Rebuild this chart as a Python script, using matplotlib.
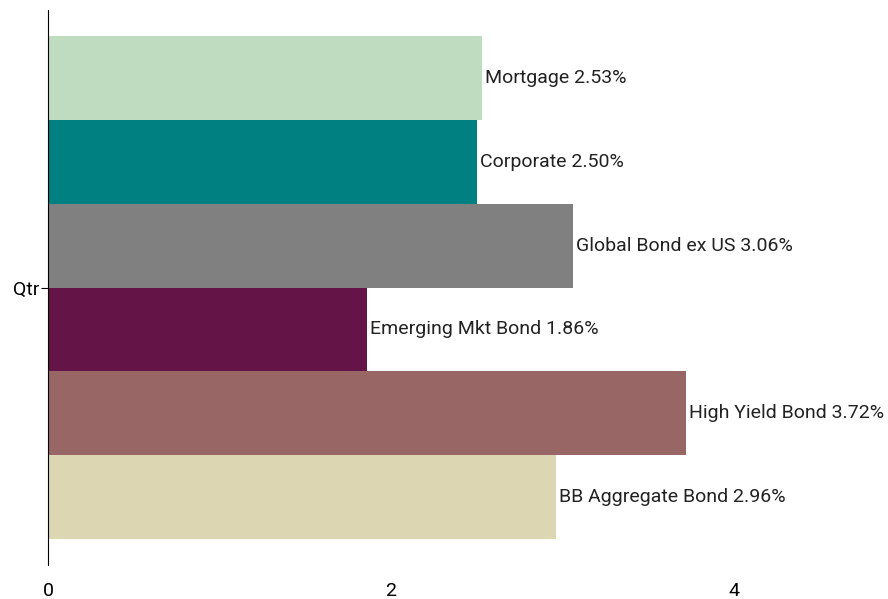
import matplotlib.pyplot as plt
import numpy as np

categories = ['Qtr']
series = ['BB Aggregate Bond', 'High Yield Bond', 'Emerging Mkt Bond',
          'Global Bond ex US', 'Corporate', 'Mortgage']
values = [2.96, 3.72, 1.86, 3.06, 2.50, 2.53]
colors = ['#ddd6b3', '#996666', '#641446', '#808080', '#008080', '#c0dcc0']

plt.rcParams['font.family'] = ['Roboto', 'DejaVu Sans']

fig = plt.figure(figsize=(8.88, 5.99), dpi=100)
ax = fig.add_axes([48 / 888, 1 - 565 / 599, 830 / 888, 555 / 599])

n = len(series)
h = 0.905 / n
for i, (name, val, c) in enumerate(zip(series, values, colors)):
    y = -0.4525 + h / 2 + i * h
    ax.barh(y, val, height=h, color=c)
    ax.text(val + 0.02, y, f'{name} {val:.2f}%', va='center', ha='left',
            fontsize=14, color='#222222')

ax.set_ylim(-0.5, 0.5)
ax.set_xlim(0, 830 / 171.5)
ax.set_yticks([0])
ax.set_yticklabels(categories, fontsize=14)
ax.set_xticks([0, 2, 4])
ax.set_xticklabels(['0', '2', '4'], fontsize=14)
ax.tick_params(axis='x', length=0, pad=12)
ax.tick_params(axis='y', length=5, pad=1)
for s in ['top', 'right', 'bottom']:
    ax.spines[s].set_visible(False)

plt.savefig('out.png')
